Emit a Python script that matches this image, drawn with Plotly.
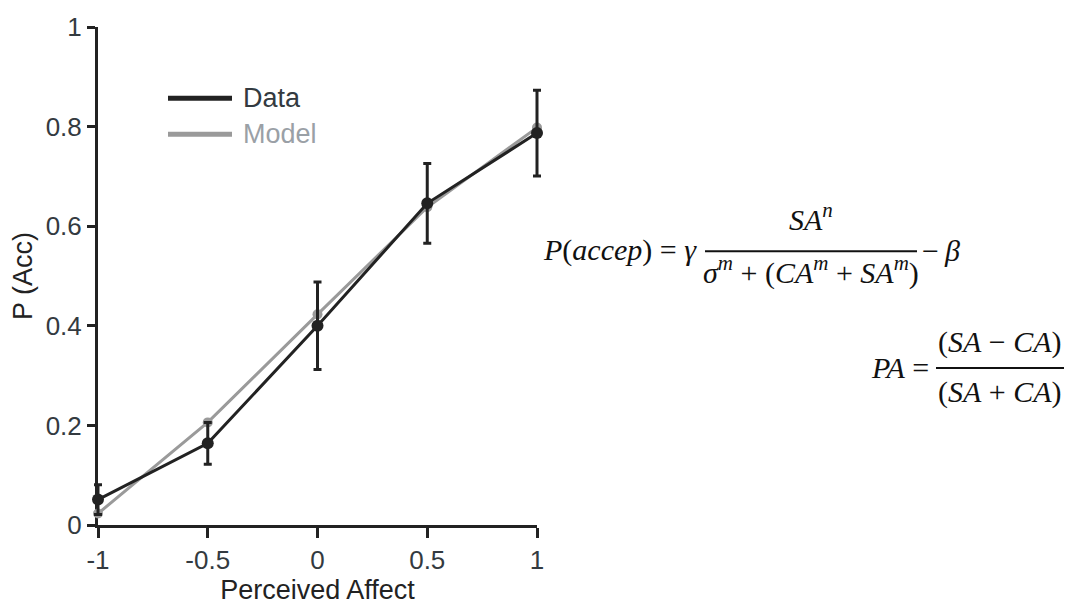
import plotly.graph_objects as go

# Perceived affect levels and acceptance probabilities
affect = [-1, -0.5, 0, 0.5, 1]
data_p = [0.051, 0.164, 0.400, 0.646, 0.787]
data_err = [0.030, 0.042, 0.088, 0.080, 0.086]
model_p = [0.023, 0.206, 0.423, 0.638, 0.798]

x_ticks = [-1, -0.5, 0, 0.5, 1]
x_ticklabels = ["-1", "-0.5", "0", "0.5", "1"]
y_ticks = [0, 0.2, 0.4, 0.6, 0.8, 1]
y_ticklabels = ["0", "0.2", "0.4", "0.6", "0.8", "1"]

W, H = 1073, 608
AX_L, AX_R, T, B = 98, 537, 17, 528   # axes box in pixels
PL, PR = 60, 580                      # wider drawing area so end marks are not clipped

DARK = "#222222"
GREY = "#9a9a9a"
TXT = "#333a40"
SANS = "Liberation Sans, Arial, sans-serif"
SERIF = "Liberation Serif, Times New Roman, serif"

XMIN, XMAX = -1, 1
unit_px = (AX_R - AX_L) / (XMAX - XMIN)


def px(x):
    return (x - PL) / (PR - PL)


def py(y):
    return (B - y) / (B - T)


fig = go.Figure()

# transparent copy of the data on the visible axes so they are laid out
fig.add_trace(go.Scatter(
    x=affect, y=data_p, mode="markers", xaxis="x", yaxis="y",
    marker=dict(opacity=0), hoverinfo="skip", showlegend=False,
))
# visible traces live on a hidden x-axis spanning the wider area, same scale
fig.add_trace(go.Scatter(
    x=affect, y=model_p, mode="lines+markers", xaxis="x2", yaxis="y",
    line=dict(color=GREY, width=3),
    marker=dict(color=GREY, size=10),
    cliponaxis=False, showlegend=False,
))
fig.add_trace(go.Scatter(
    x=affect, y=data_p, mode="lines+markers", xaxis="x2", yaxis="y",
    line=dict(color=DARK, width=3),
    marker=dict(color=DARK, size=12),
    error_y=dict(type="data", array=data_err, color=DARK, thickness=3, width=4),
    cliponaxis=False, showlegend=False,
))

axis_common = dict(
    showgrid=False, zeroline=False, showline=True, linecolor=DARK, linewidth=3,
    ticks="outside", tickwidth=3, tickcolor=DARK,
    tickfont=dict(family=SANS, size=26, color=TXT),
)
title_font = dict(family=SANS, size=27, color="#222")

fig.update_layout(
    xaxis=dict(range=[XMIN, XMAX], domain=[px(AX_L), px(AX_R)], anchor="y",
               tickvals=x_ticks, ticktext=x_ticklabels, ticklen=10,
               title=dict(text="Perceived Affect", font=title_font, standoff=2),
               **axis_common),
    xaxis2=dict(range=[XMIN - (AX_L - PL) / unit_px, XMAX + (PR - AX_R) / unit_px],
                domain=[0, 1], anchor="y", visible=False),
    yaxis=dict(range=[0, 1], anchor="x", tickvals=y_ticks, ticktext=y_ticklabels, ticklen=8,
               title=dict(text="P (Acc)", font=title_font, standoff=6),
               **axis_common),
)

shapes = []
annotations = []

# Legend drawn by hand so each label can carry its own colour
for ly, col, label, tcol in [(90, DARK, "Data", TXT), (127, GREY, "Model", "#9aa0a6")]:
    shapes.append(dict(type="line", xref="paper", yref="paper",
                       x0=px(168), x1=px(232), y0=py(ly), y1=py(ly),
                       line=dict(color=col, width=5)))
    annotations.append(dict(xref="paper", yref="paper", x=px(241), y=py(ly),
                            xanchor="left", yanchor="middle", showarrow=False,
                            text=label, font=dict(family=SANS, size=27, color=tcol)))

EQ = dict(family=SERIF, size=30, color="#111111")


def eq_text(x, y, text, anchor):
    annotations.append(dict(xref="paper", yref="paper", x=px(x), y=py(y),
                            xanchor=anchor, yanchor="middle", showarrow=False,
                            text=text, font=EQ))


# Equation 1: acceptance model
eq_text(699, 246, "<i>P</i>(<i>accep</i>) = <i>γ</i>", "right")
eq_text(811, 212, "<i>SA<sup>n</sup></i>", "center")
eq_text(811, 267, "<i>σ<sup>m</sup></i> + (<i>CA<sup>m</sup></i> + <i>SA<sup>m</sup></i>)", "center")
eq_text(920, 246, "−\u2009<i>β</i>", "left")
shapes.append(dict(type="line", xref="paper", yref="paper",
                   x0=px(705), x1=px(917), y0=py(247), y1=py(247),
                   line=dict(color="#111111", width=2)))

# Equation 2: perceived affect definition
eq_text(931, 366, "<i>PA</i> =", "right")
eq_text(1000, 340, "(<i>SA</i> − <i>CA</i>)", "center")
eq_text(1000, 392, "(<i>SA</i> + <i>CA</i>)", "center")
shapes.append(dict(type="line", xref="paper", yref="paper",
                   x0=px(936), x1=px(1064), y0=py(367), y1=py(367),
                   line=dict(color="#111111", width=2)))

fig.update_layout(
    width=W, height=H,
    margin=dict(l=PL, r=W - PR, t=T, b=H - B),
    paper_bgcolor="white", plot_bgcolor="rgba(0,0,0,0)",
    shapes=shapes, annotations=annotations,
    showlegend=False,
)

fig.write_html("out.html")
